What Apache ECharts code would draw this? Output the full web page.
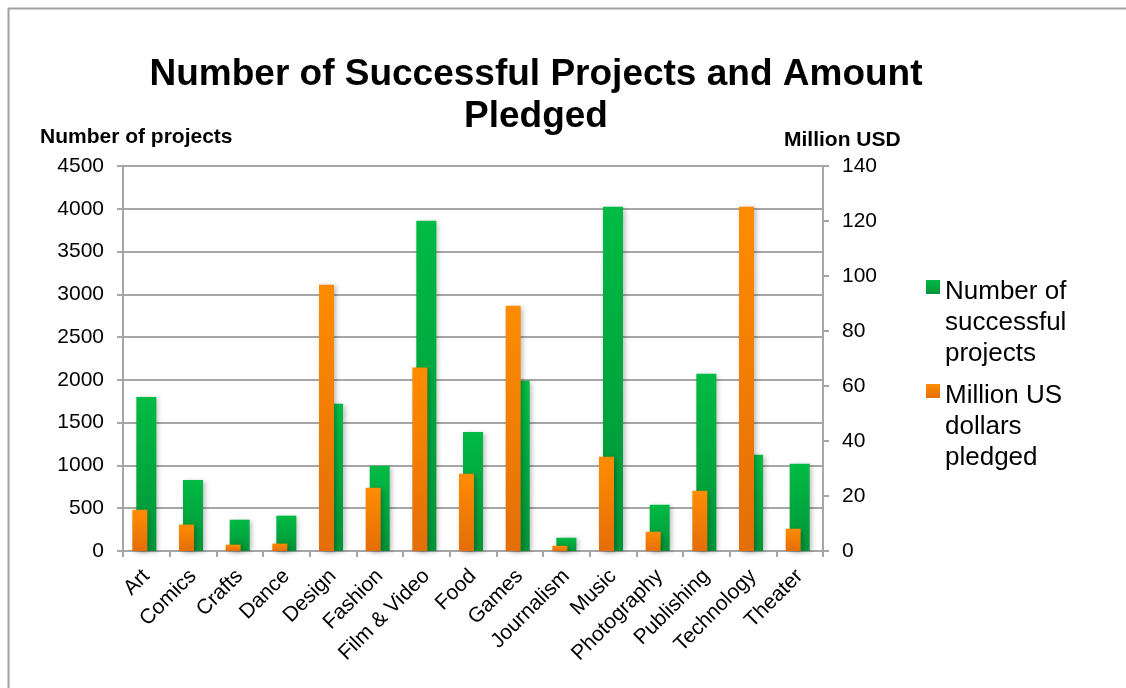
<!DOCTYPE html>
<html>
<head>
<meta charset="utf-8">
<title>Number of Successful Projects and Amount Pledged</title>
<script src="https://cdn.jsdelivr.net/npm/echarts@6/dist/echarts.min.js"></script>
<style>
  html, body { margin: 0; padding: 0; background: #ffffff; }
  #chart { width: 1126px; height: 688px; }
</style>
</head>
<body>
<div id="chart"></div>
<script>
// Kickstarter categories and their totals
const categories = ['Art', 'Comics', 'Crafts', 'Dance', 'Design', 'Fashion', 'Film & Video', 'Food',
  'Games', 'Journalism', 'Music', 'Photography', 'Publishing', 'Technology', 'Theater'];
const successfulProjects = [1800, 830, 366, 413, 1722, 997, 3861, 1391, 1991, 155, 4024, 541, 2072, 1126, 1020];
const pledgedMillionUSD = [15.0, 9.6, 2.3, 2.7, 96.8, 23.0, 66.7, 28.1, 89.2, 1.9, 34.3, 7.0, 21.9, 125.2, 8.1];

// Series names and how they wrap in the legend
const seriesNames = ['Number of successful projects', 'Million US dollars pledged'];
const legendLines = [['Number of', 'successful', 'projects'], ['Million US', 'dollars', 'pledged']];

// Axis scales
const projectTicks = [0, 500, 1000, 1500, 2000, 2500, 3000, 3500, 4000, 4500];
const usdTicks = [0, 20, 40, 60, 80, 100, 120, 140];

const FONT = 'Arial, "Liberation Sans", Helvetica, sans-serif';
const GRID_LINE = '#a6a6a6';

const plot = { left: 123, right: 303, top: 166, height: 385 };
const pledgedShift = 6.5; // pledged bars sit slightly left of the project bars

const greenFill = new echarts.graphic.LinearGradient(0, 0, 0, 1, [
  { offset: 0, color: '#00bb44' },
  { offset: 1, color: '#009438' }
]);
const orangeFill = new echarts.graphic.LinearGradient(0, 0, 0, 1, [
  { offset: 0, color: '#ff8c00' },
  { offset: 1, color: '#e46e08' }
]);

const chart = echarts.init(document.getElementById('chart'), null, { renderer: 'canvas' });

// One legend per series so each block can be placed on its own.
// Two spacer rows in front keep the swatch level with the first text line.
function legendFor(i, top) {
  return {
    data: [seriesNames[i]],
    orient: 'vertical',
    left: 926,
    top: top,
    padding: 0,
    itemWidth: 14,
    itemHeight: 14,
    icon: 'rect',
    selectedMode: false,
    formatter: () => '{gap| }\n{gap| }\n' + legendLines[i].map((s) => '{t|' + s + '}').join('\n'),
    textStyle: {
      fontFamily: FONT,
      fontSize: 26,
      color: '#000',
      rich: {
        gap: { fontSize: 10, lineHeight: 36 },
        t: { fontFamily: FONT, fontSize: 26, lineHeight: 31, color: '#000' }
      }
    }
  };
}

chart.setOption({
  animation: false,
  backgroundColor: '#ffffff',
  title: {
    text: 'Number of Successful Projects and Amount\nPledged',
    left: 536,
    top: 54,
    padding: 0,
    textAlign: 'center',
    textStyle: {
      fontFamily: FONT,
      fontSize: 37,
      fontWeight: 'bold',
      lineHeight: 42,
      color: '#000'
    }
  },
  legend: [legendFor(0, 217.5), legendFor(1, 321.5)],
  grid: [
    { left: plot.left, right: plot.right, top: plot.top, height: plot.height, containLabel: false },
    { left: plot.left - pledgedShift, right: plot.right + pledgedShift, top: plot.top, height: plot.height, containLabel: false }
  ],
  xAxis: [
    {
      type: 'category',
      gridIndex: 0,
      data: categories,
      boundaryGap: true,
      axisLine: { show: true, lineStyle: { color: GRID_LINE, width: 2 } },
      axisTick: { show: true, length: 6, inside: false, lineStyle: { color: GRID_LINE, width: 2 } },
      axisLabel: {
        rotate: 45,
        interval: 0,
        margin: 22,
        fontFamily: FONT,
        fontSize: 21,
        color: '#000'
      }
    },
    {
      type: 'category',
      gridIndex: 1,
      data: categories,
      boundaryGap: true,
      show: false
    }
  ],
  yAxis: [
    {
      type: 'value',
      gridIndex: 0,
      position: 'left',
      min: projectTicks[0],
      max: projectTicks[projectTicks.length - 1],
      interval: projectTicks[1] - projectTicks[0],
      axisLine: { show: true, lineStyle: { color: GRID_LINE, width: 2 } },
      axisTick: { show: true, length: 6, inside: false, lineStyle: { color: GRID_LINE, width: 2 } },
      splitLine: { show: true, lineStyle: { color: GRID_LINE, width: 2 } },
      axisLabel: {
        margin: 19,
        fontFamily: FONT,
        fontSize: 21,
        color: '#000',
        formatter: (v) => String(v)
      }
    },
    {
      type: 'value',
      gridIndex: 0,
      position: 'right',
      min: usdTicks[0],
      max: usdTicks[usdTicks.length - 1],
      interval: usdTicks[1] - usdTicks[0],
      axisLine: { show: true, lineStyle: { color: GRID_LINE, width: 2 } },
      axisTick: { show: true, length: 6, inside: false, lineStyle: { color: GRID_LINE, width: 2 } },
      splitLine: { show: false },
      axisLabel: {
        margin: 19,
        fontFamily: FONT,
        fontSize: 21,
        color: '#000',
        formatter: (v) => String(v)
      }
    },
    {
      type: 'value',
      gridIndex: 1,
      min: usdTicks[0],
      max: usdTicks[usdTicks.length - 1],
      interval: usdTicks[1] - usdTicks[0],
      show: false,
      splitLine: { show: false }
    }
  ],
  series: [
    {
      name: seriesNames[0],
      type: 'bar',
      xAxisIndex: 0,
      yAxisIndex: 0,
      barWidth: 20,
      data: successfulProjects,
      z: 2,
      itemStyle: {
        color: greenFill,
        shadowColor: 'rgba(0,0,0,0.28)',
        shadowBlur: 5,
        shadowOffsetX: 2,
        shadowOffsetY: 1
      }
    },
    {
      name: seriesNames[1],
      type: 'bar',
      xAxisIndex: 1,
      yAxisIndex: 2,
      barWidth: 15,
      data: pledgedMillionUSD,
      z: 3,
      itemStyle: {
        color: orangeFill,
        shadowColor: 'rgba(0,0,0,0.28)',
        shadowBlur: 5,
        shadowOffsetX: 2,
        shadowOffsetY: 1
      }
    }
  ],
  graphic: [
    // frame around the chart area
    { type: 'line', shape: { x1: 8.5, y1: 8, x2: 8.5, y2: 688 }, style: { stroke: '#a0a0a0', lineWidth: 2 } },
    { type: 'line', shape: { x1: 8, y1: 8.5, x2: 1126, y2: 8.5 }, style: { stroke: '#a0a0a0', lineWidth: 2 } },
    // axis titles
    {
      type: 'text', left: 40, top: 127,
      style: { text: 'Number of projects', font: 'bold 21px ' + FONT, fill: '#000' }
    },
    {
      type: 'text', left: 784, top: 130,
      style: { text: 'Million USD', font: 'bold 21px ' + FONT, fill: '#000' }
    }
  ]
});
</script>
</body>
</html>
